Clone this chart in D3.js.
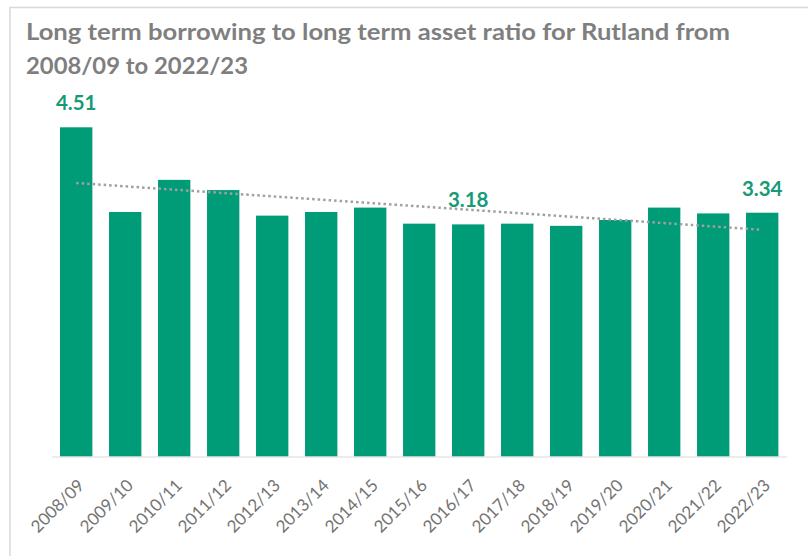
<!DOCTYPE html>
<html>
<head>
<meta charset="utf-8">
<script src="https://cdn.jsdelivr.net/npm/d3@7"></script>
<style>
  html, body { margin: 0; padding: 0; background: #ffffff; }
  svg { display: block; }
</style>
</head>
<body>
<svg id="chart" width="808" height="556"></svg>
<script>
// Financial years on the category axis
const years = ["2008/09","2009/10","2010/11","2011/12","2012/13","2013/14","2014/15",
               "2015/16","2016/17","2017/18","2018/19","2019/20","2020/21","2021/22","2022/23"];
// Long term borrowing / long term assets for each year
const ratios = [4.51, 3.35, 3.79, 3.65, 3.30, 3.35, 3.41, 3.19, 3.18, 3.19, 3.16, 3.24, 3.41, 3.33, 3.34];
// Years whose bars carry a value label
const labelledYears = ["2008/09", "2016/17", "2022/23"];
const titleLines = ["Long term borrowing to long term asset ratio for Rutland from",
                    "2008/09 to 2022/23"];

const svg = d3.select("#chart");
const W = 808, H = 556;
const barColor = "#009b77";
const labelColor = "#169a78";
const textGrey = "#7f7f7f";
const axisGrey = "#d9d9d9";

// Chart frame (runs off the right and bottom edges)
svg.append("rect")
  .attr("x", 10).attr("y", 7.5)
  .attr("width", W).attr("height", H)
  .attr("fill", "#ffffff")
  .attr("stroke", axisGrey).attr("stroke-width", 1.5);

// Title
const titleWidths = [704, 222];
svg.append("g").selectAll("text").data(titleLines).join("text")
  .attr("x", 26)
  .attr("y", (d, i) => 39.5 + i * 34.5)
  .attr("font-family", "Lato, 'Open Sans', sans-serif")
  .attr("font-weight", 700)
  .attr("font-size", 22.5)
  .attr("fill", textGrey)
  .attr("textLength", (d, i) => titleWidths[i])
  .attr("lengthAdjust", "spacingAndGlyphs")
  .text(d => d);

// Scales
const x = d3.scaleBand()
  .domain(years)
  .range([51.7, 786.7])
  .paddingInner(0.34)
  .paddingOuter(0.17);

const y = d3.scaleLinear()
  .domain([0, 4.51])
  .range([456.5, 127.3]);

// Bars
const data = years.map((yr, i) => ({ year: yr, value: ratios[i] }));
svg.append("g").selectAll("rect").data(data).join("rect")
  .attr("x", d => x(d.year))
  .attr("y", d => y(d.value))
  .attr("width", x.bandwidth())
  .attr("height", d => y(0) - y(d.value))
  .attr("fill", barColor);

// Category axis
const xAxis = d3.axisBottom(x).tickSize(0).tickPadding(0);
const gx = svg.append("g")
  .attr("transform", `translate(0,${y(0)})`)
  .call(xAxis);
gx.select(".domain").attr("stroke", axisGrey).attr("stroke-width", 1.2);
gx.selectAll(".tick text")
  .attr("font-family", "Lato, 'Open Sans', sans-serif")
  .attr("font-size", 17)
  .attr("fill", "#747474")
  .attr("text-anchor", "end")
  .attr("dy", null)
  .attr("y", null)
  .attr("transform", "translate(9,30) rotate(-45)");

// Linear trend line fitted to the ratios
const idx = ratios.map((_, i) => i);
const mx = d3.mean(idx), my = d3.mean(ratios);
const slope = d3.sum(idx, i => (i - mx) * (ratios[i] - my)) / d3.sum(idx, i => (i - mx) ** 2);
const intercept = my - slope * mx;
const trend = [0, years.length - 1].map(i => ({ year: years[i], value: intercept + slope * i }));
svg.append("path")
  .datum(trend)
  .attr("d", d3.line()
    .x(d => x(d.year) + x.bandwidth() / 2)
    .y(d => y(d.value)))
  .attr("fill", "none")
  .attr("stroke", "#a0a0a0")
  .attr("stroke-width", 2.5)
  .attr("stroke-dasharray", "2.5,3");

// Value labels
svg.append("g").selectAll("text")
  .data(data.filter(d => labelledYears.includes(d.year)))
  .join("text")
  .attr("x", d => x(d.year) + x.bandwidth() / 2)
  .attr("y", d => y(d.value) - 17)
  .attr("text-anchor", "middle")
  .attr("font-family", "Lato, 'Open Sans', sans-serif")
  .attr("font-weight", 700)
  .attr("font-size", 20.5)
  .attr("fill", labelColor)
  .text(d => d.value.toFixed(2));
</script>
</body>
</html>
